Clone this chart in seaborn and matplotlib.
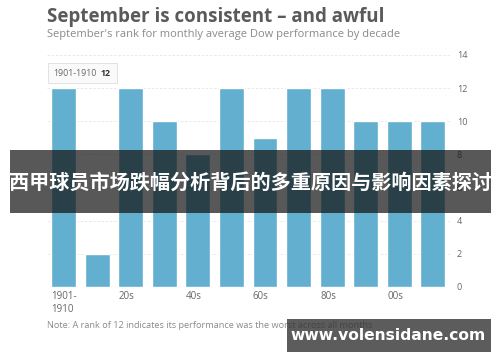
import matplotlib
matplotlib.use("Agg")
import matplotlib.pyplot as plt
import matplotlib.transforms as mtrans
import seaborn as sns
import pandas as pd
from matplotlib.patches import Rectangle

decades = ["1900s", "1910s", "1920s", "1930s", "1940s", "1950s",
           "1960s", "1970s", "1980s", "1990s", "2000s", "2010s"]
ranks = [12, 2, 12, 10, 8, 12, 9, 12, 12, 10, 10, 10]
tick_labels = ["1901-\n1910", "", "20s", "", "40s", "", "60s", "", "80s", "", "00s", ""]
y_ticks = [0, 2, 4, 6, 8, 10, 12, 14]

title = "September is consistent \u2013 and awful"
subtitle = "September's rank for monthly average Dow performance by decade"
note = "Note: A rank of 12 indicates its performance was the worst across all months"
banner = "西甲球员市场跌幅分析背后的多重原因与影响因素探讨"
watermark = "www.volensidane.com"

sns.set_theme(style="white")
plt.rcParams['font.family'] = ['Open Sans', 'DejaVu Sans']

df = pd.DataFrame({"decade": decades, "rank": ranks})

fig = plt.figure(figsize=(5.0, 3.62), dpi=100)
ax = fig.add_axes([46.7 / 500, 75 / 362, 403 / 500, 232 / 362])
sns.barplot(data=df, x="decade", y="rank", color="#62afcf", width=0.74,
            saturation=1, ax=ax, zorder=2)
ax.set_xlim(-0.5, 11.5)
ax.set_ylim(0, 14)
ax.set_yticks(y_ticks)
ax.yaxis.tick_right()
ax.tick_params(axis="y", length=0, labelsize=6.5, labelcolor="#666666", pad=5)
ax.set_xticks(range(len(decades)))
ax.set_xticklabels(tick_labels, fontsize=7, color="#666666", ha="left")
ax.tick_params(axis="x", length=0, pad=3)
offset = mtrans.ScaledTranslation(-12 / 100, 0, fig.dpi_scale_trans)
for lbl in ax.get_xticklabels():
    lbl.set_transform(lbl.get_transform() + offset)
ax.set_xlabel("")
ax.set_ylabel("")
for s in ax.spines.values():
    s.set_visible(False)
ax.yaxis.grid(True, color="#e6e6e6", linewidth=0.6, linestyle=(0, (3, 2)), zorder=0)
ax.set_axisbelow(True)

fig.text(47 / 500, 1 - 17 / 362, title, fontsize=13.5, fontweight="bold",
         color="#5a5a5a", va="center", ha="left")
fig.text(47 / 500, 1 - 34 / 362, subtitle, fontsize=8.0, color="#8a8a8a",
         va="center", ha="left")
fig.text(47 / 500, 1 - 326 / 362, note, fontsize=6.6, color="#8a8a8a",
         va="center", ha="left")

# tooltip
fig.patches.append(Rectangle((48 / 500, 1 - 83 / 362), 69 / 500, 20 / 362,
                             transform=fig.transFigure, facecolor="#fafafa",
                             edgecolor="#dddddd", linewidth=0.6, zorder=5))
fig.text(53 / 500, 1 - 73 / 362, "1901-1910", fontsize=6.3, color="#666666",
         va="center", ha="left", zorder=6)
fig.text(101 / 500, 1 - 73 / 362, "12", fontsize=6.3, color="#333333",
         fontweight="bold", va="center", ha="left", zorder=6)

# banner overlay
fig.patches.append(Rectangle((10 / 500, 1 - 213 / 362), 481 / 500, 63 / 362,
                             transform=fig.transFigure, facecolor="#111111",
                             alpha=0.7, edgecolor="none", zorder=10))
fig.text(250 / 500, 1 - 182 / 362, banner, fontsize=14.5, fontweight="bold",
         color="white", va="center", ha="center", zorder=11,
         family=["Noto Sans CJK SC", "DejaVu Sans"])

# watermark
fig.patches.append(Rectangle((287 / 500, 1 - 352 / 362), 204 / 500, 33 / 362,
                             transform=fig.transFigure, facecolor="#333333",
                             alpha=0.8, edgecolor="none", zorder=10))
fig.text(388 / 500, 1 - 336 / 362, watermark, fontsize=11.2, fontweight="bold",
         color="white", va="center", ha="center", zorder=11,
         family=["DejaVu Sans"])

fig.savefig("out.png", dpi=100)
